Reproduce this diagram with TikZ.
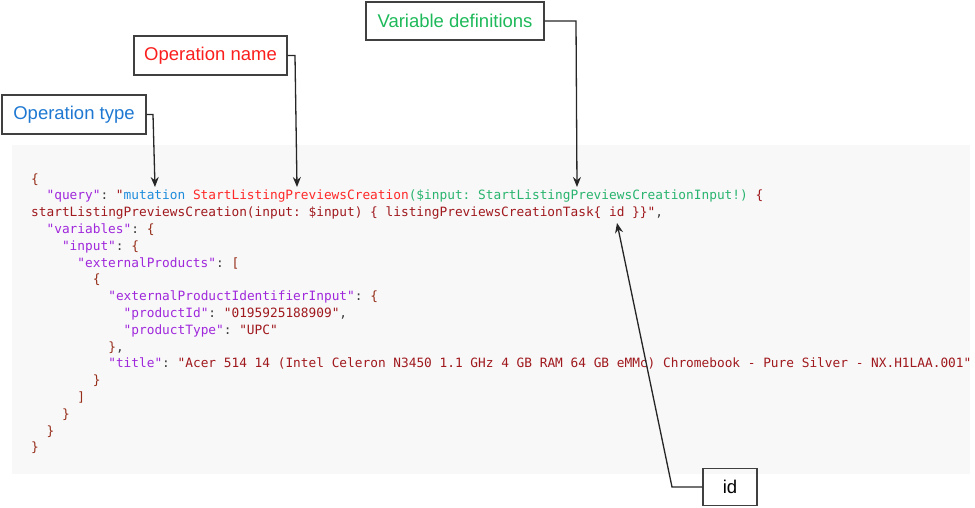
\documentclass[tikz,border=0pt]{standalone}
\usepackage{fontspec}
\setmainfont{Liberation Sans}
\newfontfamily\codefont[WordSpace={1,0,0}]{DejaVu Sans Mono}
\usetikzlibrary{arrows.meta}
\definecolor{keyc}{RGB}{160,40,220}
\definecolor{strc}{RGB}{160,25,30}
\definecolor{brc}{RGB}{150,45,25}
\definecolor{punc}{RGB}{60,60,60}
\definecolor{mutc}{RGB}{30,140,220}
\definecolor{namec}{RGB}{255,40,40}
\definecolor{varc}{RGB}{40,180,110}
\definecolor{codebg}{RGB}{248,248,248}
\definecolor{otc}{RGB}{30,120,210}
\definecolor{onc}{RGB}{250,30,30}
\definecolor{vdc}{RGB}{30,185,90}
\definecolor{framec}{RGB}{64,64,64}
\newcommand\ckey[1]{\textcolor{keyc}{#1}}
\newcommand\cstr[1]{\textcolor{strc}{#1}}
\newcommand\cbr[1]{\textcolor{brc}{#1}}
\newcommand\cpun[1]{\textcolor{punc}{#1}}
\newcommand\cmut[1]{\textcolor{mutc}{#1}}
\newcommand\cnam[1]{\textcolor{namec}{#1}}
\newcommand\cvar[1]{\textcolor{varc}{#1}}
\begin{document}
\begin{tikzpicture}[x=1pt,y=-1pt,
  code/.style={anchor=base west, inner sep=0pt, font=\codefont\fontsize{12.8}{14}\selectfont},
  lbl/.style={draw=framec, line width=1.3pt, inner sep=0pt, font=\fontsize{18.5}{20}\selectfont},
  conn/.style={draw=black!85, line width=1.3pt},
  arr/.style={conn, -{Stealth[length=10pt,width=8pt]}}]
\useasboundingbox (0,0) rectangle (975,508);
\fill[codebg] (12,145) rectangle (970,474);

% code lines: x = 31 + col*7.706, baseline = 183 + 16.8*line
\node[code] (l0) at (31,183) {\cbr{\{}};
\node[code] (l1) at (46.4,199.8) {\ckey{"query"}\cpun{:}\ \cstr{"}\cmut{mutation}\ \cnam{StartListingPreviewsCreation}\cvar{(\$input:\ StartListingPreviewsCreationInput!)}\ \cstr{\{}};
\node[code] (l2) at (31,216.6) {\cstr{startListingPreviewsCreation(input:\ \$input)\ \{\ listingPreviewsCreationTask\{\ id\ \}\}"}\cpun{,}};
\node[code] (l3) at (46.4,233.4) {\ckey{"variables"}\cpun{:}\ \cbr{\{}};
\node[code] (l4) at (61.8,250.2) {\ckey{"input"}\cpun{:}\ \cbr{\{}};
\node[code] (l5) at (77.2,267.0) {\ckey{"externalProducts"}\cpun{:}\ \cbr{[}};
\node[code] (l6) at (92.6,283.8) {\cbr{\{}};
\node[code] (l7) at (108.1,300.6) {\ckey{"externalProductIdentifierInput"}\cpun{:}\ \cbr{\{}};
\node[code] (l8) at (123.5,317.4) {\ckey{"productId"}\cpun{:}\ \cstr{"0195925188909"}\cpun{,}};
\node[code] (l9) at (123.5,334.2) {\ckey{"productType"}\cpun{:}\ \cstr{"UPC"}};
\node[code] (l10) at (108.1,351.0) {\cbr{\}}\cpun{,}};
\node[code] (l11) at (108.1,367.8) {\ckey{"title"}\cpun{:}\ \cstr{"Acer 514 14 (Intel Celeron N3450 1.1 GHz 4 GB RAM 64 GB eMMc) Chromebook - Pure Silver - NX.H1LAA.001"}};
\node[code] (l12) at (92.6,384.6) {\cbr{\}}};
\node[code] (l13) at (77.2,401.4) {\cbr{]}};
\node[code] (l14) at (61.8,418.2) {\cbr{\}}};
\node[code] (l15) at (46.4,435.0) {\cbr{\}}};
\node[code] (l16) at (31,451.8) {\cbr{\}}};

% label boxes
\node[lbl, minimum width=144pt, minimum height=39pt, text=otc] (optype) at (74,114.5) {Operation type};
\node[lbl, minimum width=153pt, minimum height=39pt, text=onc] (opname) at (210.5,55.5) {Operation name};
\node[lbl, minimum width=178pt, minimum height=38pt, text=vdc] (vardef) at (455,21) {Variable definitions};
\node[lbl, minimum width=54pt, minimum height=37pt, text=black] (idbox) at (730,487) {id};

% arrow targets and corners
\coordinate (tmut) at (155,187);
\coordinate (tnam) at (297,187);
\coordinate (tvar) at (577,187);
\coordinate (tid) at (617,223);
\coordinate (cot) at (153,114.5);
\coordinate (con) at (295,55.5);
\coordinate (cvd) at (576,21);
\coordinate (cid) at (672,487);

\draw[arr] (optype.east) -- (cot) -- (tmut);
\draw[arr] (opname.east) -- (con) -- (tnam);
\draw[arr] (vardef.east) -- (cvd) -- (tvar);
\draw[arr] (idbox.west) -- (cid) -- (tid);
\end{tikzpicture}
\end{document}
